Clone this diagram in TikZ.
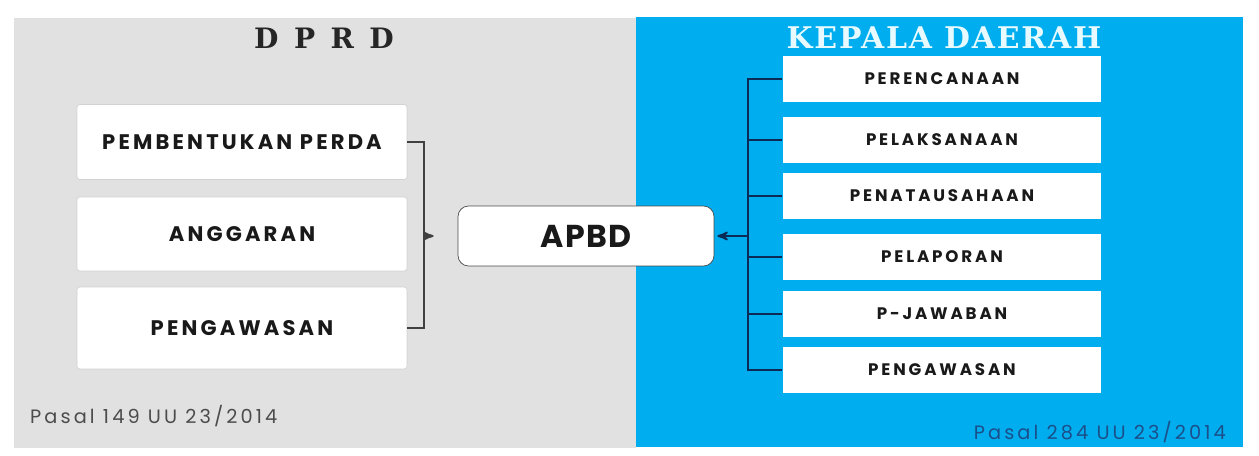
\documentclass[tikz,border=0pt]{standalone}
\usepackage{fontspec}
\setmainfont{Poppins}
\newfontfamily\leftfont{Poppins}[LetterSpace=15]
\newfontfamily\rightfont{Poppins}[LetterSpace=17]
\newfontfamily\apbdfont{Poppins}[LetterSpace=5]
\newfontfamily\pasalfont{Poppins}[LetterSpace=16]
\newfontfamily\titlefont{DejaVu Serif}[LetterSpace=6]
\usetikzlibrary{arrows,positioning}

\definecolor{panelgray}{HTML}{E1E1E1}
\definecolor{panelblue}{HTML}{00AEEF}
\definecolor{linenavy}{HTML}{0B2A55}
\definecolor{pasalblue}{HTML}{1B4F8A}
\definecolor{titlecyan}{HTML}{E6FAFF}

\begin{document}
\begin{tikzpicture}[x=0.02cm,y=-0.02cm,>=stealth',
    leftbox/.style={draw=gray!35,fill=white,rounded corners=1.5pt,minimum width=6.6cm,
      font=\leftfont\bfseries\fontsize{12}{14}\selectfont,text=black!90},
    rightbox/.style={fill=white,minimum width=6.38cm,minimum height=0.92cm,
      font=\rightfont\bfseries\fontsize{9.5}{11}\selectfont,text=black!90},
    title/.style={font=\titlefont\bfseries\fontsize{16}{19}\selectfont},
    pasal/.style={font=\pasalfont\fontsize{11}{13}\selectfont}]
  \useasboundingbox (0,0) rectangle (1259,456);
  \fill[panelgray] (14,18) rectangle (636,448);
  \fill[panelblue] (636,17) rectangle (1243,447);

  \node[title,text=black!85] (dprd) at (324,38) {D\hspace{0.55em}P\hspace{0.55em}R\hspace{0.55em}D};
  \node[title,text=titlecyan,font=\titlefont\bfseries\fontsize{17}{20}\selectfont] (kepala) at (944,38) {KEPALA DAERAH};

  \node[leftbox,minimum height=1.5cm]  (perda)    at (242,142) {PEMBENTUKAN PERDA};
  \node[leftbox,minimum height=1.48cm] (anggaran) at (242,234) {ANGGARAN};
  \node[leftbox,minimum height=1.64cm] (awasl)    at (242,328) {PENGAWASAN};

  \node[draw=black!70,fill=white,rounded corners=6pt,minimum width=5.12cm,minimum height=1.2cm,
    font=\apbdfont\bfseries\fontsize{18}{21}\selectfont,text=black!90] (apbd) at (586,236) {APBD};

  \node[rightbox] (rencana) at (942,79)  {PERENCANAAN};
  \node[rightbox] (laksana) at (942,140) {PELAKSANAAN};
  \node[rightbox] (tatausaha) at (942,196) {PENATAUSAHAAN};
  \node[rightbox] (lapor)   at (942,257) {PELAPORAN};
  \node[rightbox] (jawab)   at (942,314) {P-JAWABAN};
  \node[rightbox] (awasr)   at (942,370) {PENGAWASAN};

  \node[pasal,text=black!70,anchor=west] (pasalkiri) at (24,416) {Pasal 149 UU 23/2014};
  \node[pasal,text=pasalblue,anchor=east] (pasalkanan) at (1232,432) {Pasal 284 UU 23/2014};

  % DPRD side
  \coordinate (brk) at (424,236);
  \draw[black!75,line width=1.1pt] (perda.east) -| (brk) |- (awasl.east);
  \draw[->,black!75,line width=1.1pt,shorten >=0.48cm] (brk) -- (apbd.west);

  % kepala daerah side
  \coordinate (fork) at (748,236);
  \draw[linenavy,line width=1.1pt] (rencana.west) -| (fork) |- (awasr.west);
  \foreach \b in {laksana,tatausaha,lapor,jawab}
    \draw[linenavy,line width=1.1pt] (fork |- \b.west) -- (\b.west);
  \draw[->,linenavy,line width=1.1pt,shorten >=0.06cm] (fork) -- (apbd.east);
\end{tikzpicture}
\end{document}
